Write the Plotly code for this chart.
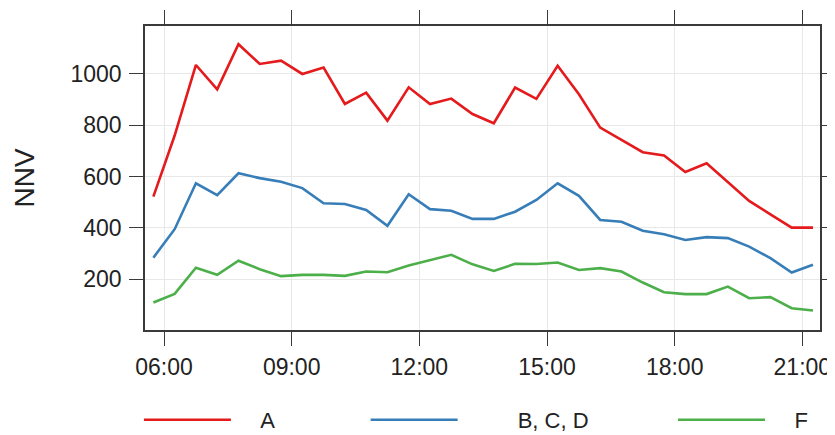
import plotly.graph_objects as go

times = ["05:45", "06:15", "06:45", "07:15", "07:45", "08:15", "08:45", "09:15",
         "09:45", "10:15", "10:45", "11:15", "11:45", "12:15", "12:45", "13:15",
         "13:45", "14:15", "14:45", "15:15", "15:45", "16:15", "16:45", "17:15",
         "17:45", "18:15", "18:45", "19:15", "19:45", "20:15", "20:45", "21:15"]

series_a = [522, 760, 1035, 940, 1116, 1039, 1052, 1000, 1025, 883, 927, 818,
            948, 883, 904, 844, 808, 947, 903, 1032, 921, 791, 743, 695,
            682, 618, 652, 580, 505, 453, 401, 401]
series_bcd = [284, 395, 574, 528, 613, 594, 580, 555, 496, 493, 470, 408,
              531, 473, 467, 435, 435, 463, 509, 574, 525, 431, 424, 389,
              375, 353, 364, 360, 327, 282, 226, 256]
series_f = [109, 143, 245, 217, 272, 239, 212, 217, 217, 213, 230, 227,
            253, 275, 295, 258, 232, 260, 259, 265, 236, 243, 230, 187,
            149, 142, 142, 171, 126, 130, 87, 78]

names = ["A", "B, C, D", "F"]
colors = ["#E41A1C", "#377EB8", "#4DAF4A"]
y_ticks = [200, 400, 600, 800, 1000]
x_ticks = ["06:00", "09:00", "12:00", "15:00", "18:00", "21:00"]

day = "2000-01-01 "
xs = [day + t for t in times]
FONT = "Liberation Sans, Arial, sans-serif"
NB = "\u00a0"
# legend spacing (leading / trailing non-breaking spaces per entry)
lead_pad = [4, 9, 4]
trail_pad = [14, 13, 0]

fig = go.Figure()
for name, vals, col, lp, tp in zip(names, [series_a, series_bcd, series_f],
                                   colors, lead_pad, trail_pad):
    fig.add_trace(go.Scatter(x=xs, y=vals, mode="lines",
                             name=NB * lp + name + NB * tp,
                             hovertext=name, line=dict(color=col, width=2.6)))

axis_common = dict(
    showline=True, linecolor="#3a3a3a", linewidth=1.5, mirror="allticks",
    ticks="outside", tickcolor="#3a3a3a", tickwidth=1.3, ticklen=14,
    showgrid=True, gridcolor="#e8e8e8", gridwidth=1, zeroline=False,
    automargin=False,
    tickfont=dict(family=FONT, size=23, color="#222"),
)

fig.update_xaxes(**axis_common, type="date",
                 range=[day + "05:33:12", day + "21:24:54"],
                 tickvals=[day + t for t in x_ticks], ticktext=x_ticks,
                 ticklabelstandoff=2)
fig.update_yaxes(**axis_common, range=[2, 1187], tickvals=y_ticks,
                 ticklabelstandoff=3,
                 title=dict(text="NNV", standoff=28,
                            font=dict(family=FONT, size=28, color="#222")))

# page body adds an 8px offset, so the figure is 8px smaller on each axis
fig.update_layout(
    width=827, height=427,
    margin=dict(l=137, r=15, t=18, b=105, autoexpand=False),
    paper_bgcolor="white", plot_bgcolor="white",
    showlegend=True,
    legend=dict(orientation="h", x=-0.009, xanchor="left", y=-0.296, yanchor="middle",
                itemwidth=87,
                font=dict(family=FONT, size=22, color="#222"),
                bgcolor="rgba(0,0,0,0)"),
)

fig.write_html("out.html")
